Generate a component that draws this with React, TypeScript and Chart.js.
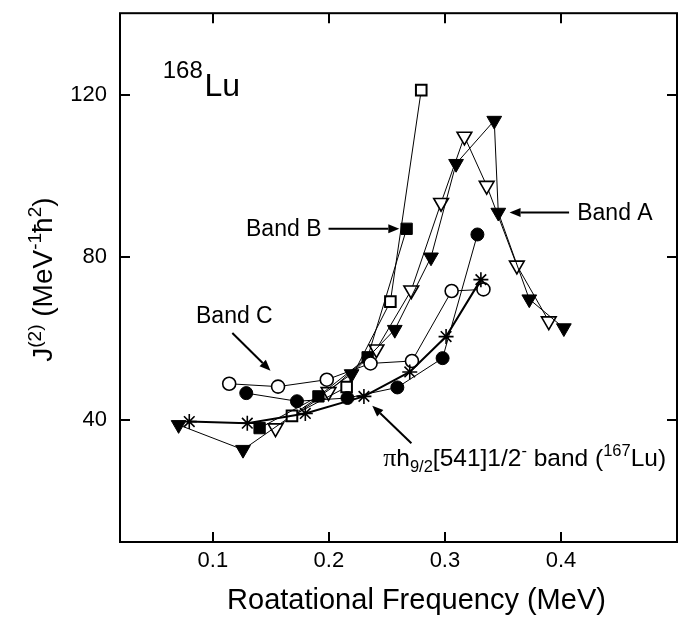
import React, { useEffect, useRef } from "react";
import { Chart, registerables } from "chart.js";

Chart.register(...registerables);

const FONT = "'Liberation Sans', Arial, Helvetica, sans-serif";
const SERIF = "'Liberation Serif', 'Times New Roman', serif";

// ---- axes ----
const xMin = 0.02;
const xMax = 0.5;
const xStep = 0.02;
const yMin = 10;
const yMax = 140;
const yStep = 10;
const xTickLabels = [0.1, 0.2, 0.3, 0.4];
const yTickLabels = [40, 80, 120];
const xTitle = "Roatational Frequency (MeV)";

// ---- data ----
// Band A, filled down-triangles
const bandAFilledX = [0.0705, 0.126, 0.2196, 0.2568, 0.288, 0.3096, 0.3425, 0.346, 0.3727, 0.4025];
const bandAFilledY = [38.8, 32.7, 51.3, 62.2, 80.0, 103.0, 113.6, 91.0, 69.7, 62.6];
// Band A, open down-triangles
const bandAOpenX = [0.154, 0.1997, 0.241, 0.271, 0.2967, 0.3168, 0.336, 0.362, 0.3895];
const bandAOpenY = [38.0, 46.9, 57.4, 71.9, 93.4, 109.7, 97.6, 78.0, 64.3];
// Band B, filled squares
const bandBFilledX = [0.1403, 0.191, 0.2334, 0.267];
const bandBFilledY = [38.0, 45.8, 55.4, 87.0];
// Band B, open squares
const bandBOpenX = [0.1682, 0.2153, 0.253, 0.2796];
const bandBOpenY = [41.0, 48.1, 69.1, 121.1];
// Band C, open circles
const bandCOpenX = [0.1141, 0.1562, 0.1982, 0.2359, 0.2716, 0.3058, 0.3332];
const bandCOpenY = [48.9, 48.2, 49.9, 53.9, 54.5, 71.7, 72.1];
// Band C, filled circles
const bandCFilledX = [0.1288, 0.1725, 0.216, 0.259, 0.298, 0.328];
const bandCFilledY = [46.6, 44.6, 45.4, 48.0, 55.2, 85.6];
// pi h9/2 [541]1/2- band of 167Lu, asterisks
const lu167X = [0.0797, 0.1297, 0.1797, 0.2302, 0.2697, 0.301, 0.331];
const lu167Y = [39.6, 39.2, 41.6, 45.8, 51.8, 60.5, 74.5];

const pts = (xs: number[], ys: number[]) => xs.map((x, i) => ({ x, y: ys[i] }));

type Seg = { text: string; size: number; dy?: number; family?: string };

// annotation anchors in data units
const isoLabel = { x: 0.0568, y: 119.6 };
const bandCLabel = { x: 0.0855, y: 63.8 };
const bandCArrow = { x1: 0.1168, y1: 61.4, x2: 0.1497, y2: 52.1 };
const bandBLabel = { x: 0.1286, y: 85.2 };
const bandBArrow = { x1: 0.1997, y1: 87.0, x2: 0.2607, y2: 87.0 };
const bandALabel = { x: 0.414, y: 89.1 };
const bandAArrow = { x1: 0.407, y1: 91.0, x2: 0.3557, y2: 91.0 };
const luLabel = { x: 0.2468, y: 28.7 };
const luArrow = { x1: 0.2711, y1: 34.3, x2: 0.2374, y2: 43.5 };

const near = (v: number, arr: number[]) => arr.find((a) => Math.abs(a - v) < 1e-6);

function segWidth(ctx: CanvasRenderingContext2D, segs: Seg[]) {
  let w = 0;
  for (const s of segs) {
    ctx.font = `${s.size}px ${s.family || FONT}`;
    w += ctx.measureText(s.text).width;
  }
  return w;
}

function drawRich(ctx: CanvasRenderingContext2D, x: number, y: number, segs: Seg[]) {
  let cx = x;
  ctx.textBaseline = "alphabetic";
  ctx.textAlign = "left";
  for (const s of segs) {
    ctx.font = `${s.size}px ${s.family || FONT}`;
    ctx.fillText(s.text, cx, y + (s.dy || 0));
    cx += ctx.measureText(s.text).width;
  }
}

function arrow(ctx: CanvasRenderingContext2D, x1: number, y1: number, x2: number, y2: number) {
  const ang = Math.atan2(y2 - y1, x2 - x1);
  const hl = 11;
  const hw = 4.5;
  const bx = x2 - hl * Math.cos(ang);
  const by = y2 - hl * Math.sin(ang);
  ctx.beginPath();
  ctx.moveTo(x1, y1);
  ctx.lineTo(bx, by);
  ctx.stroke();
  ctx.beginPath();
  ctx.moveTo(x2, y2);
  ctx.lineTo(bx + hw * Math.sin(ang), by - hw * Math.cos(ang));
  ctx.lineTo(bx - hw * Math.sin(ang), by + hw * Math.cos(ang));
  ctx.closePath();
  ctx.fill();
}

const decorPlugin = {
  id: "decor",
  afterDatasetsDraw(chart: any) {
    const { ctx, chartArea: a } = chart;
    const xs = chart.scales.x;
    const ys = chart.scales.y;
    const X = (v: number) => xs.getPixelForValue(v);
    const Y = (v: number) => ys.getPixelForValue(v);
    ctx.save();
    ctx.strokeStyle = "#000";
    ctx.fillStyle = "#000";
    ctx.lineWidth = 2;
    ctx.beginPath();
    for (const t of xs.ticks) {
      const px = Math.round(X(t.value));
      if (px <= a.left + 2 || px >= a.right - 2) continue;
      const len = near(t.value, xTickLabels) !== undefined ? 10 : 6;
      ctx.moveTo(px, a.bottom);
      ctx.lineTo(px, a.bottom - len);
      ctx.moveTo(px, a.top);
      ctx.lineTo(px, a.top + len);
    }
    for (const t of ys.ticks) {
      const py = Math.round(Y(t.value));
      if (py <= a.top + 2 || py >= a.bottom - 2) continue;
      const len = near(t.value, yTickLabels) !== undefined ? 10 : 6;
      ctx.moveTo(a.left, py);
      ctx.lineTo(a.left + len, py);
      ctx.moveTo(a.right, py);
      ctx.lineTo(a.right - len, py);
    }
    ctx.stroke();
    ctx.strokeRect(a.left, a.top, a.right - a.left, a.bottom - a.top);

    // x-axis title
    const xt: Seg[] = [{ text: xTitle, size: 29 }];
    const xw = segWidth(ctx, xt);
    drawRich(ctx, (a.left + a.right) / 2 + 18 - xw / 2, a.bottom + 67, xt);

    // y-axis title (rotated, with superscripts)
    const yt: Seg[] = [
      { text: "J", size: 28 },
      { text: "(2)", size: 19, dy: -11 },
      { text: " (MeV", size: 28 },
      { text: "-1", size: 19, dy: -11 },
      { text: "ħ", size: 28 },
      { text: "2", size: 19, dy: -11 },
      { text: ")", size: 28 },
    ];
    const w = segWidth(ctx, yt);
    ctx.save();
    ctx.translate(52, (a.top + a.bottom) / 2 + 2);
    ctx.rotate(-Math.PI / 2);
    drawRich(ctx, -w / 2, 0, yt);
    ctx.restore();

    // isotope label
    drawRich(ctx, X(isoLabel.x), Y(isoLabel.y), [
      { text: "168", size: 24, dy: -18 },
      { text: " ", size: 6 },
      { text: "Lu", size: 32 },
    ]);

    // band labels
    drawRich(ctx, X(bandCLabel.x), Y(bandCLabel.y), [{ text: "Band C", size: 23 }]);
    drawRich(ctx, X(bandBLabel.x), Y(bandBLabel.y), [{ text: "Band B", size: 23 }]);
    drawRich(ctx, X(bandALabel.x), Y(bandALabel.y), [{ text: "Band A", size: 23 }]);
    drawRich(ctx, X(luLabel.x), Y(luLabel.y), [
      { text: "π", size: 26, family: SERIF },
      { text: "h", size: 24.5 },
      { text: "9/2", size: 16.5, dy: 6 },
      { text: "[541]1/2", size: 24.5 },
      { text: "-", size: 16.5, dy: -10 },
      { text: " band (", size: 24.5 },
      { text: "167", size: 16.5, dy: -10 },
      { text: "Lu)", size: 24.5 },
    ]);

    ctx.lineWidth = 2;
    for (const ar of [bandCArrow, bandBArrow, bandAArrow, luArrow]) {
      arrow(ctx, X(ar.x1), Y(ar.y1), X(ar.x2), Y(ar.y2));
    }
    ctx.restore();
  },
};

export default function App() {
  const ref = useRef<HTMLCanvasElement | null>(null);
  useEffect(() => {
    if (!ref.current) return;
    const common = { borderColor: "#000", showLine: true, fill: false, tension: 0 };
    const chart = new Chart(ref.current, {
      type: "scatter",
      data: {
        datasets: [
          {
            ...common,
            label: "167Lu",
            data: pts(lu167X, lu167Y),
            borderWidth: 2,
            pointStyle: "star",
            pointRadius: 7.5,
            pointBorderWidth: 1.6,
            pointBackgroundColor: "#000",
            pointBorderColor: "#000",
          },
          {
            ...common,
            label: "Band C filled",
            data: pts(bandCFilledX, bandCFilledY),
            borderWidth: 1,
            pointStyle: "circle",
            pointRadius: 6.5,
            pointBorderWidth: 1,
            pointBackgroundColor: "#000",
            pointBorderColor: "#000",
          },
          {
            ...common,
            label: "Band C open",
            data: pts(bandCOpenX, bandCOpenY),
            borderWidth: 1,
            pointStyle: "circle",
            pointRadius: 6.5,
            pointBorderWidth: 1.6,
            pointBackgroundColor: "#fff",
            pointBorderColor: "#000",
          },
          {
            ...common,
            label: "Band B filled",
            data: pts(bandBFilledX, bandBFilledY),
            borderWidth: 1,
            pointStyle: "rect",
            pointRadius: 8,
            pointBorderWidth: 1,
            pointBackgroundColor: "#000",
            pointBorderColor: "#000",
          },
          {
            ...common,
            label: "Band B open",
            data: pts(bandBOpenX, bandBOpenY),
            borderWidth: 1,
            pointStyle: "rect",
            pointRadius: 7.5,
            pointBorderWidth: 2,
            pointBackgroundColor: "#fff",
            pointBorderColor: "#000",
          },
          {
            ...common,
            label: "Band A filled",
            data: pts(bandAFilledX, bandAFilledY),
            borderWidth: 1,
            pointStyle: "triangle",
            pointRotation: 180,
            pointRadius: 8.5,
            pointBorderWidth: 1,
            pointBackgroundColor: "#000",
            pointBorderColor: "#000",
          },
          {
            ...common,
            label: "Band A open",
            data: pts(bandAOpenX, bandAOpenY),
            borderWidth: 1,
            pointStyle: "triangle",
            pointRotation: 180,
            pointRadius: 8.5,
            pointBorderWidth: 1.6,
            pointBackgroundColor: "#fff",
            pointBorderColor: "#000",
          },
        ],
      },
      options: {
        animation: false,
        responsive: false,
        maintainAspectRatio: false,
        layout: { padding: { top: 6, right: 19, left: 0, bottom: 0 } },
        plugins: { legend: { display: false }, tooltip: { enabled: false } },
        scales: {
          x: {
            type: "linear",
            position: "bottom",
            min: xMin,
            max: xMax,
            grid: { display: false, drawTicks: true, tickLength: 6 },
            border: { display: false },
            ticks: {
              stepSize: xStep,
              autoSkip: false,
              maxRotation: 0,
              padding: 0,
              color: "#000",
              font: { family: FONT, size: 22 },
              callback: (v: any) => {
                const m = near(Number(v), xTickLabels);
                return m !== undefined ? m.toFixed(1) : null;
              },
            },
            afterFit: (s: any) => {
              s.height = 79;
            },
          },
          y: {
            type: "linear",
            min: yMin,
            max: yMax,
            grid: { display: false, drawTicks: true, tickLength: 13 },
            border: { display: false },
            ticks: {
              stepSize: yStep,
              autoSkip: false,
              padding: 0,
              color: "#000",
              font: { family: FONT, size: 22 },
              callback: (v: any) => {
                const m = near(Number(v), yTickLabels);
                return m !== undefined ? String(m) : null;
              },
            },
            afterFit: (s: any) => {
              s.width = 120;
            },
          },
        },
      },
      plugins: [decorPlugin],
    } as any);
    return () => chart.destroy();
  }, []);
  return (
    <div style={{ position: "absolute", left: 0, top: 0, width: 696, height: 621, background: "#fff" }}>
      <canvas ref={ref} width={696} height={621} style={{ display: "block" }} />
    </div>
  );
}
